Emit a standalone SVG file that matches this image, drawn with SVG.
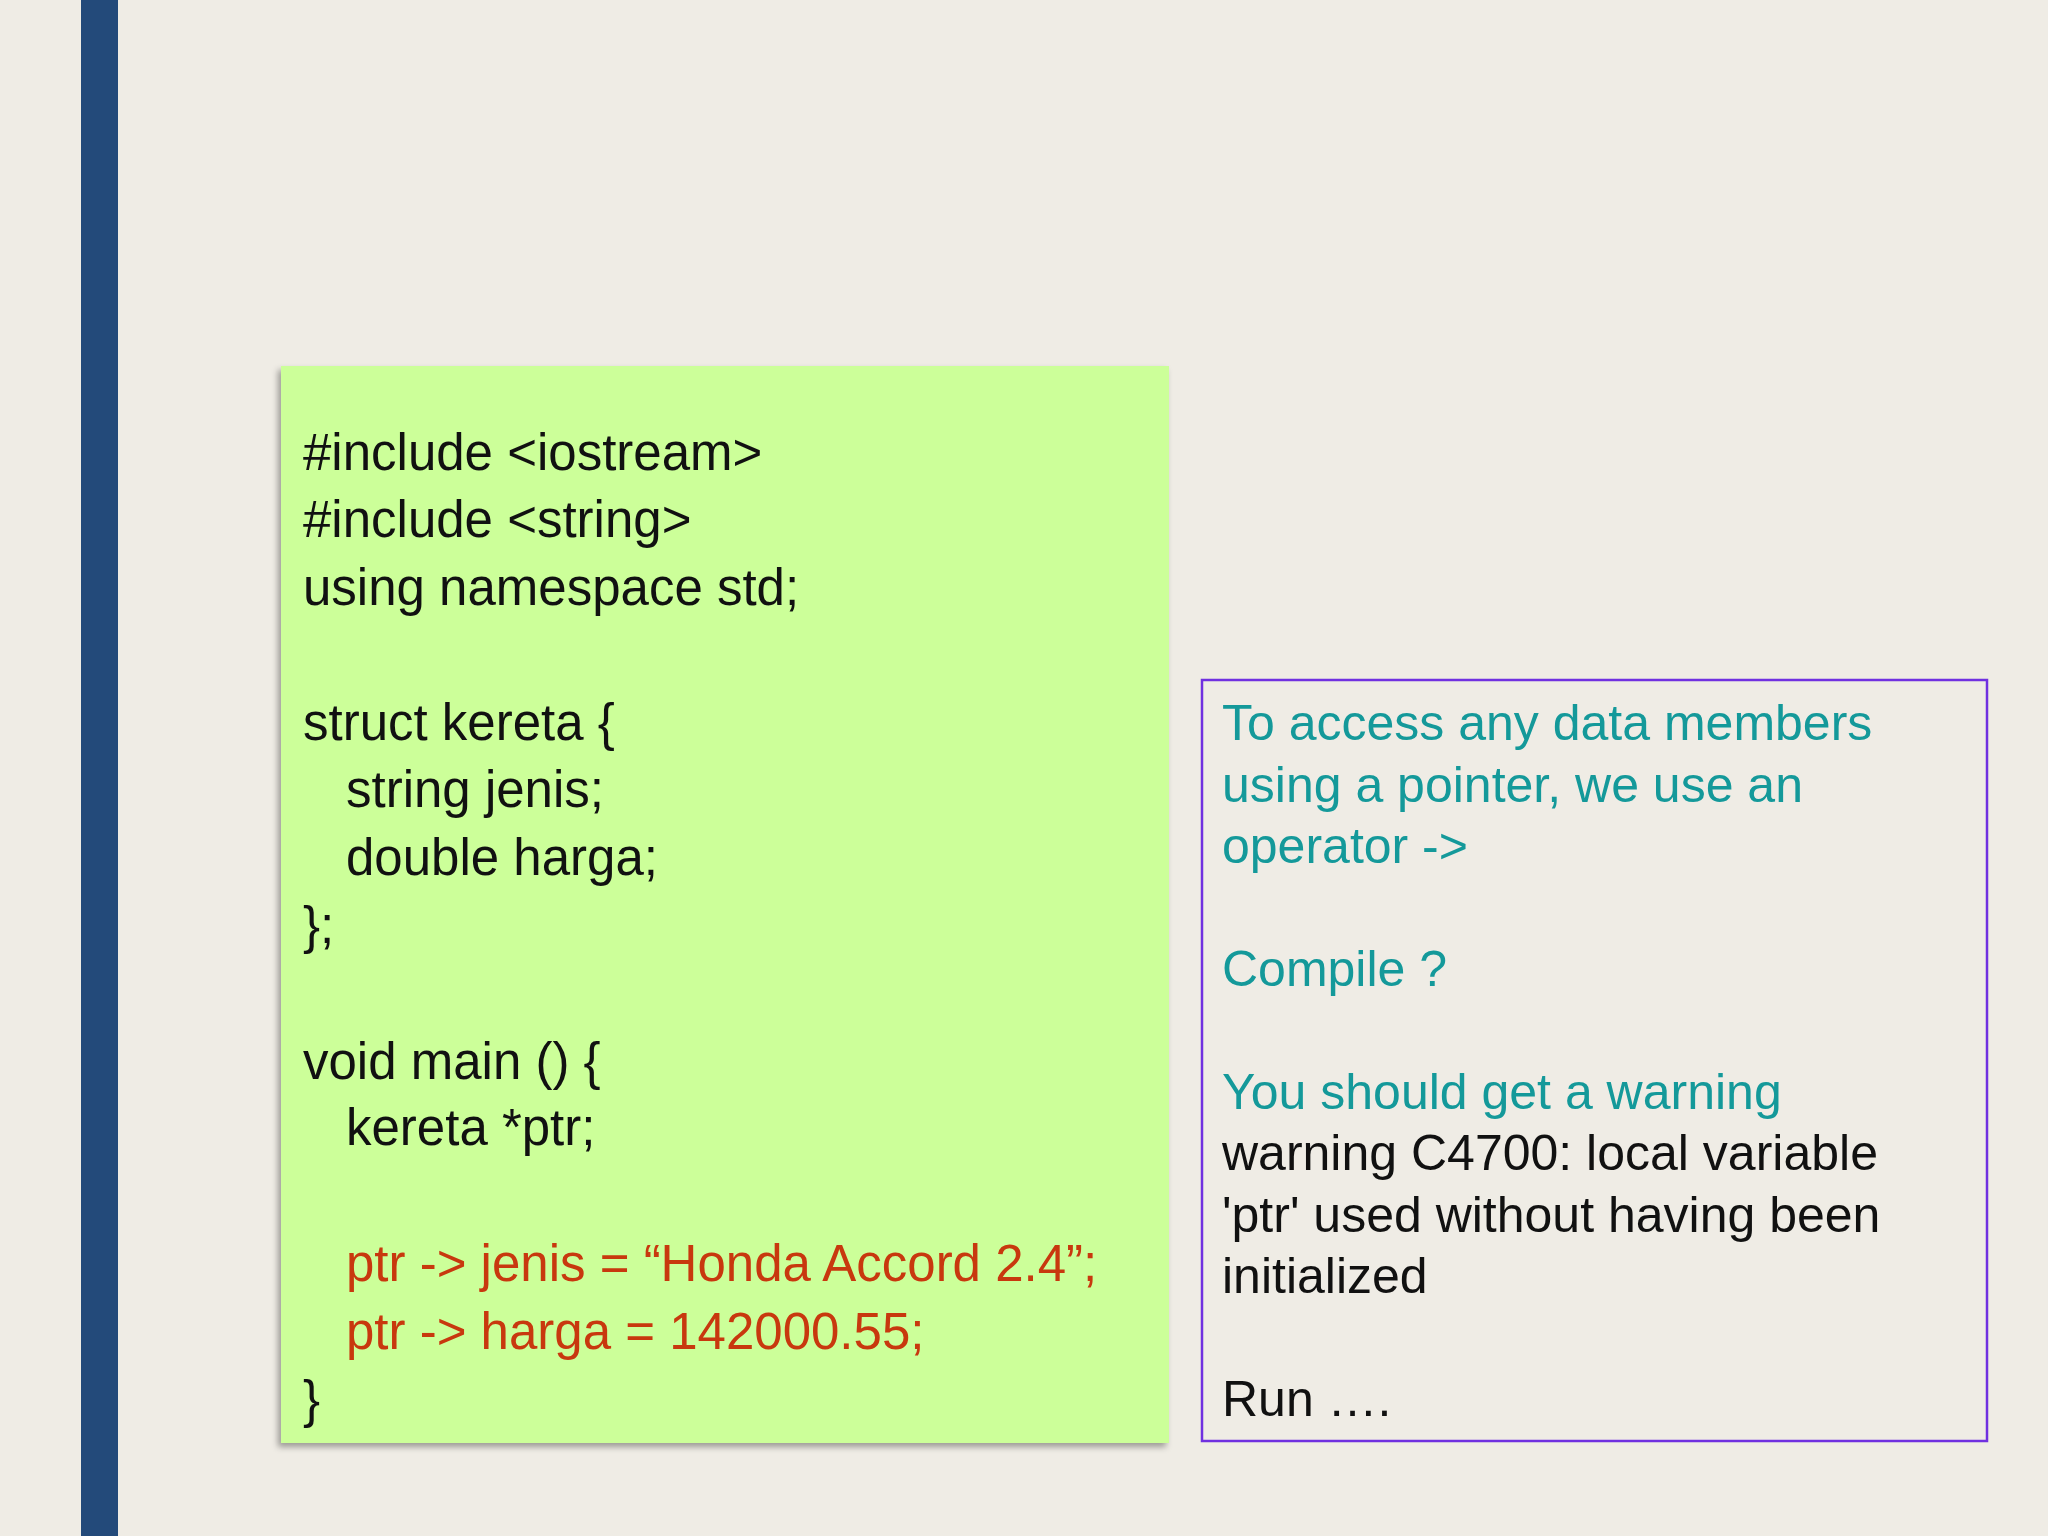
<svg xmlns="http://www.w3.org/2000/svg" width="2048" height="1536" viewBox="0 0 2048 1536">
<style>
text{font-family:"Liberation Sans",Arial,sans-serif;font-size:51px;fill:#111}
.r{fill:#C8380E}
.t{fill:#14999A;font-size:50px}
.k{font-size:50px}
</style>
<defs><filter id="sh" x="-5%" y="-5%" width="110%" height="110%"><feDropShadow dx="-3" dy="4" stdDeviation="3" flood-color="#000" flood-opacity="0.35"/></filter></defs>
<rect width="2048" height="1536" fill="#EFECE5"/>
<rect x="81" y="0" width="37" height="1536" fill="#234A7A"/>
<g id="code">
<rect x="281" y="366" width="888" height="1077" fill="#CCFF99" filter="url(#sh)"/>
<text x="303" y="470">#include &lt;iostream&gt;</text>
<text x="303" y="537">#include &lt;string&gt;</text>
<text x="303" y="605">using namespace std;</text>
<text x="303" y="740">struct kereta {</text>
<text x="346" y="807">string jenis;</text>
<text x="346" y="875">double harga;</text>
<text x="303" y="943">};</text>
<text x="303" y="1079">void main () {</text>
<text x="346" y="1145">kereta *ptr;</text>
<text x="346" y="1281" class="r">ptr -&gt; jenis = “Honda Accord 2.4”;</text>
<text x="346" y="1349" class="r">ptr -&gt; harga = 142000.55;</text>
<text x="303" y="1417">}</text>
</g>
<g id="note">
<rect x="1202" y="680" width="785" height="761" fill="none" stroke="#7030E0" stroke-width="2.5"/>
<text x="1222" y="740" class="t">To access any data members</text>
<text x="1222" y="802" class="t">using a pointer, we use an</text>
<text x="1222" y="863" class="t">operator -&gt;</text>
<text x="1222" y="986" class="t">Compile ?</text>
<text x="1222" y="1109" class="t">You should get a warning</text>
<text x="1222" y="1170" class="k">warning C4700: local variable</text>
<text x="1222" y="1232" class="k">'ptr' used without having been</text>
<text x="1222" y="1293" class="k">initialized</text>
<text x="1222" y="1416" class="k">Run ….</text>
</g>
<g id="connectors"/>
</svg>
